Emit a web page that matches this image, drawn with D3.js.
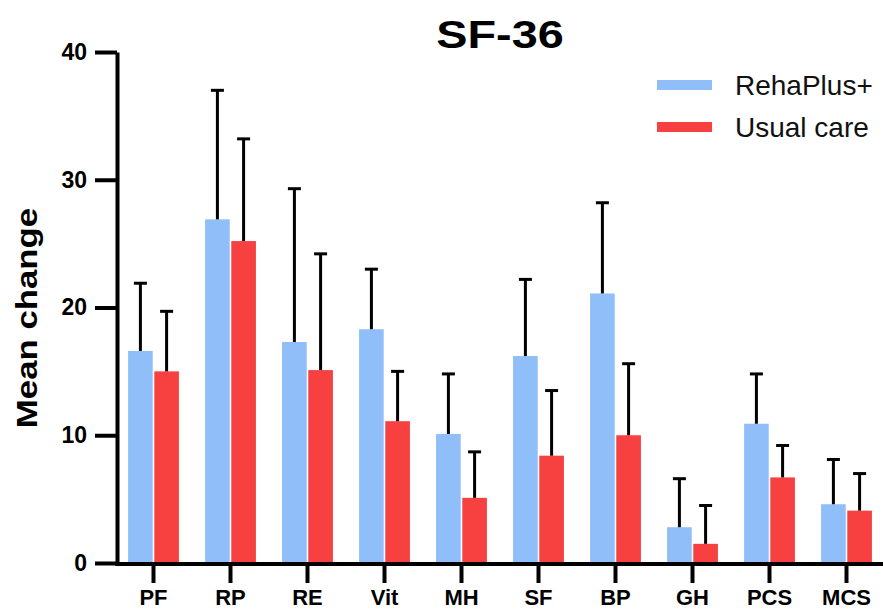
<!DOCTYPE html>
<html>
<head>
<meta charset="utf-8">
<script src="https://cdn.jsdelivr.net/npm/d3@7"></script>
<style>
  body { margin: 0; background: #fff; }
  svg text { font-family: "Liberation Sans", Arial, sans-serif; }
</style>
</head>
<body>
<div id="chart"></div>
<script>
const categories = ['PF', 'RP', 'RE', 'Vit', 'MH', 'SF', 'BP', 'GH', 'PCS', 'MCS']
const seriesNames = ['RehaPlus+', 'Usual care']
const rehaMean = [16.6, 26.9, 17.3, 18.3, 10.1, 16.2, 21.1, 2.8, 10.9, 4.6]
const rehaUpper = [21.9, 37.0, 29.3, 23.0, 14.8, 22.2, 28.2, 6.6, 14.8, 8.1]
const usualMean = [15.0, 25.2, 15.1, 11.1, 5.1, 8.4, 10.0, 1.5, 6.7, 4.1]
const usualUpper = [19.7, 33.2, 24.2, 15.0, 8.7, 13.5, 15.6, 4.5, 9.2, 7.0]
const yTicks = [0, 10, 20, 30, 40]
const colors = ['#90bef8', '#f74040']

const width = 883, height = 611
const svg = d3.select('#chart').append('svg')
    .attr('width', width)
    .attr('height', height)

const axisX = 117, baseY = 563

const x = d3.scaleBand()
    .domain(categories)
    .range([115, 885])
    .paddingInner(0.34)
    .paddingOuter(0.17)
const xSub = d3.scaleBand()
    .domain(seriesNames)
    .range([0, x.bandwidth()])
    .paddingInner(0.06)
const y = d3.scaleLinear()
    .domain([0, 40])
    .range([baseY, 52])

const data = categories.map((c, i) => ({
    cat: c,
    vals: [
        { s: seriesNames[0], mean: rehaMean[i], upper: rehaUpper[i], color: colors[0] },
        { s: seriesNames[1], mean: usualMean[i], upper: usualUpper[i], color: colors[1] }
    ]
}))

// bars
const groups = svg.append('g').selectAll('g')
    .data(data)
    .join('g')
    .attr('transform', d => `translate(${x(d.cat)},0)`)

groups.selectAll('rect')
    .data(d => d.vals)
    .join('rect')
    .attr('x', d => xSub(d.s))
    .attr('y', d => y(d.mean))
    .attr('width', xSub.bandwidth())
    .attr('height', d => baseY - y(d.mean))
    .attr('fill', d => d.color)

// error bars (upper only)
const err = groups.selectAll('g.err')
    .data(d => d.vals)
    .join('g')
    .attr('class', 'err')
    .attr('stroke', '#000')
    .attr('stroke-width', 3)
err.append('line')
    .attr('x1', d => xSub(d.s) + xSub.bandwidth() / 2)
    .attr('x2', d => xSub(d.s) + xSub.bandwidth() / 2)
    .attr('y1', d => y(d.mean))
    .attr('y2', d => y(d.upper))
err.append('line')
    .attr('x1', d => xSub(d.s) + xSub.bandwidth() / 2 - 6.5)
    .attr('x2', d => xSub(d.s) + xSub.bandwidth() / 2 + 6.5)
    .attr('y1', d => y(d.upper))
    .attr('y2', d => y(d.upper))

// y axis
const yAxis = svg.append('g')
    .attr('transform', `translate(${axisX},0)`)
    .call(d3.axisLeft(y).tickValues(yTicks).tickSize(22).tickPadding(8).tickSizeOuter(0))
yAxis.select('.domain').attr('stroke-width', 4)
yAxis.selectAll('.tick line').attr('stroke-width', 4)
yAxis.selectAll('.tick text')
    .attr('font-size', 23)
    .attr('font-weight', 'bold')
    .attr('fill', '#000')

// x axis
const xAxis = svg.append('g')
    .attr('transform', `translate(0,${baseY + 1})`)
    .call(d3.axisBottom(x).tickSize(19).tickPadding(6).tickSizeOuter(0))
xAxis.select('.domain').attr('d', `M${axisX - 2},0H${width}`).attr('stroke-width', 4)
xAxis.selectAll('.tick line').attr('stroke-width', 4)
xAxis.selectAll('.tick text')
    .attr('font-size', 22)
    .attr('font-weight', 'bold')
    .attr('fill', '#000')

// title
svg.append('text')
    .attr('transform', 'translate(500,48) scale(1.2,1)')
    .attr('text-anchor', 'middle')
    .attr('font-size', 39)
    .attr('font-weight', 'bold')
    .text('SF-36')

// y label
svg.append('text')
    .attr('transform', 'translate(37,318) rotate(-90) scale(1.16,1)')
    .attr('text-anchor', 'middle')
    .attr('font-size', 30)
    .attr('font-weight', 'bold')
    .text('Mean change')

// legend
const legend = svg.append('g')
    .selectAll('g')
    .data(seriesNames)
    .join('g')
    .attr('transform', (d, i) => `translate(657,${80 + i * 42})`)
legend.append('rect')
    .attr('width', 55)
    .attr('height', 10)
    .attr('fill', (d, i) => colors[i])
legend.append('text')
    .attr('x', 78)
    .attr('y', 15)
    .attr('font-size', 28)
    .attr('fill', '#111')
    .text(d => d)
</script>
</body>
</html>
